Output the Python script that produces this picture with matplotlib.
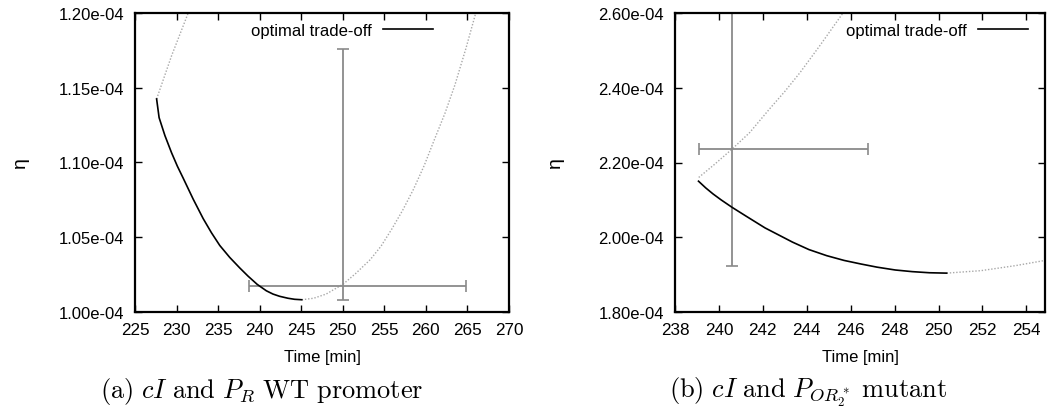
import matplotlib
matplotlib.use("Agg")
import matplotlib.pyplot as plt
from matplotlib.lines import Line2D

plt.rcParams["font.family"] = ["Liberation Sans", "DejaVu Sans"]
plt.rcParams["mathtext.fontset"] = "cm"

# ---- (a) cI and P_R wild-type promoter ----
a_opt_t = [227.6, 227.9, 228.6, 229.4, 230.1, 230.8, 232.0, 233.2, 234.2, 235.2,
           236.4, 237.6, 238.6, 239.7, 240.8, 241.6, 242.4, 243.4, 244.2, 245.06]
a_opt_eta = [1.1425, 1.1300, 1.1180, 1.1065, 1.0975, 1.0895, 1.0755, 1.0625, 1.0530, 1.0445,
             1.0365, 1.0295, 1.0240, 1.0185, 1.0142, 1.0120, 1.0105, 1.0092, 1.0085, 1.0082]
a_upper_t = [227.6, 229.4, 231.4]
a_upper_eta = [1.1425, 1.1714, 1.2000]
a_lower_t = [245.06, 246.5, 248.0, 250.06, 251.5, 253.3, 254.6, 255.9, 257.2, 258.5,
             259.8, 261.0, 262.3, 263.5, 264.8, 266.0]
a_lower_eta = [1.0082, 1.0092, 1.0120, 1.0187, 1.0255, 1.0350, 1.0440, 1.0555, 1.0680, 1.0820,
               1.0980, 1.1150, 1.1330, 1.1520, 1.1760, 1.2000]
a_meas_t, a_meas_eta = 250.0, 1.0176
a_t_err = (11.25, 14.8)
a_eta_err = (0.0094, 0.1583)

# ---- (b) cI and P_OR2* mutant ----
b_opt_t = [239.07, 239.4, 239.73, 240.1, 240.6, 241.25, 242.1, 243.35, 244.1, 244.91,
           245.7, 246.47, 247.2, 248.03, 248.8, 249.59, 250.37]
b_opt_eta = [2.150, 2.132, 2.116, 2.100, 2.080, 2.056, 2.025, 1.987, 1.967, 1.9507,
             1.938, 1.9284, 1.920, 1.9124, 1.908, 1.9050, 1.9040]
b_upper_t = [239.08, 239.8, 240.6, 241.4, 242.3, 243.0, 243.7, 244.6, 245.65]
b_upper_eta = [2.160, 2.195, 2.236, 2.280, 2.343, 2.390, 2.441, 2.513, 2.600]
b_lower_t = [250.37, 251.93, 253.5, 254.85]
b_lower_eta = [1.9040, 1.9106, 1.9240, 1.9380]
b_meas_t, b_meas_eta = 240.6, 2.236
b_t_err = (1.52, 6.2)
b_eta_err = (0.312, 0.60)

a_xticks = [225, 230, 235, 240, 245, 250, 255, 260, 265, 270]
a_yticks = [1.00, 1.05, 1.10, 1.15, 1.20]
b_xticks = [238, 240, 242, 244, 246, 248, 250, 252, 254]
b_yticks = [1.80, 2.00, 2.20, 2.40, 2.60]

SCALE = 1e-4
W, H = 1055, 414
fig = plt.figure(figsize=(W / 100, H / 100), dpi=100)

def px_axes(l, r, t, b):
    return fig.add_axes([l / W, (H - b) / H, (r - l) / W, (b - t) / H])

def draw(ax, opt_t, opt_eta, up_t, up_eta, lo_t, lo_eta, mt, me, terr, eerr,
         xlim, ylim, xticks, yticks, leg_x):
    sc = lambda v: [x * SCALE for x in v]
    dot = dict(color="#a8a8a8", lw=1.0, ls=(0, (1, 1.3)))
    ax.plot(up_t, sc(up_eta), **dot)
    ax.plot(lo_t, sc(lo_eta), **dot)
    ax.errorbar([mt], [me * SCALE], xerr=[[terr[0]], [terr[1]]],
                yerr=[[eerr[0] * SCALE], [eerr[1] * SCALE]],
                fmt="none", ecolor="#8a8a8a", elinewidth=1.3, capsize=4,
                capthick=1.2)
    ax.plot(opt_t, sc(opt_eta), color="black", lw=1.2)
    ax.set_xlim(*xlim)
    ax.set_ylim(ylim[0] * SCALE, ylim[1] * SCALE)
    ax.set_xticks(xticks)
    ax.set_xticklabels([str(v) for v in xticks], fontsize=12.3)
    ax.set_yticks([v * SCALE for v in yticks])
    ax.set_yticklabels([f"{v:.2f}e-04" for v in yticks], fontsize=12)
    ax.tick_params(direction="in", length=5, width=1.0, top=True, right=True)
    ax.tick_params(axis="y", pad=8)
    ax.tick_params(axis="x", pad=7)
    for s in ax.spines.values():
        s.set_linewidth(1.6)
    ax.set_xlabel("Time [min]", fontsize=12, labelpad=9)
    handle = Line2D([], [], color="black", lw=1.2)
    ax.legend([handle], ["optimal trade-off"], loc="center right",
              bbox_to_anchor=(leg_x, 0.943), frameon=False, markerfirst=False,
              fontsize=12, handlelength=3.0, handletextpad=0.7,
              borderpad=0, borderaxespad=0)

ax1 = px_axes(135, 509, 14, 313)
draw(ax1, a_opt_t, a_opt_eta, a_upper_t, a_upper_eta, a_lower_t, a_lower_eta,
     a_meas_t, a_meas_eta, a_t_err, a_eta_err, (225, 270), (1.00, 1.20),
     a_xticks, a_yticks, (433 - 135) / 374)

ax2 = px_axes(675, 1045, 14, 313)
draw(ax2, b_opt_t, b_opt_eta, b_upper_t, b_upper_eta, b_lower_t, b_lower_eta,
     b_meas_t, b_meas_eta, b_t_err, b_eta_err, (238, 254.85), (1.80, 2.60),
     b_xticks, b_yticks, (1028 - 675) / 370)

fig.text(20 / W, 1 - 163 / H, "η", rotation=90, fontsize=14, ha="center", va="center")
fig.text(555 / W, 1 - 163 / H, "η", rotation=90, fontsize=14, ha="center", va="center")

fig.text(262 / W, 1 - 392 / H,
         r"$\mathrm{(a)}\ cI\ \mathrm{and}\ P_R\ \mathrm{WT\ promoter}$",
         fontsize=19, ha="center", va="center")
fig.text(808 / W, 1 - 392 / H,
         r"$\mathrm{(b)}\ cI\ \mathrm{and}\ P_{OR_2^*}\ \mathrm{mutant}$",
         fontsize=19, ha="center", va="center")

fig.savefig("out.png", dpi=100)
